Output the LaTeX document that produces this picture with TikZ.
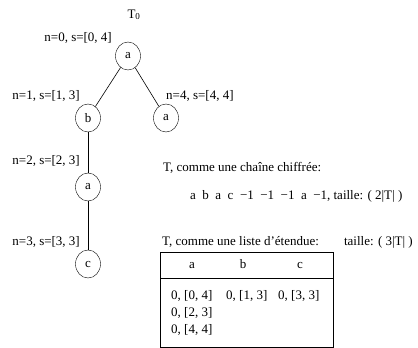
\documentclass[tikz,border=0pt]{standalone}
\usepackage{fontspec}
\setmainfont{Liberation Serif}
\usetikzlibrary{shapes.geometric}
\begin{document}
\begin{tikzpicture}[x=1pt,y=-1pt,
  tnode/.style={draw,ellipse,minimum width=25pt,minimum height=28pt,inner sep=0pt,font=\fontsize{13}{15}\selectfont},
  lbl/.style={inner sep=0pt,text height=9pt,text depth=3pt,font=\fontsize{13}{15}\selectfont},
  edge/.style={draw,line width=0.6pt}]
\useasboundingbox (0,0) rectangle (418,348);
% tree nodes
\node[tnode] (r) at (128,56) {a};
\node[tnode] (b) at (88,118) {b};
\node[tnode] (ra) at (166,118) {a};
\node[tnode] (m) at (88,187) {a};
\node[tnode] (c) at (88,264) {c};
\draw[edge] (r) -- (b);
\draw[edge] (r) -- (ra);
\draw[edge] (b) -- (m);
\draw[edge] (m) -- (c);
% labels
\node[lbl] (t0) at (134,15) {T\textsubscript{0}};
\node[lbl,anchor=east] (l0) at (112,38) {n=0, s=[0, 4]};
\node[lbl,anchor=east] (l1) at (80,96) {n=1, s=[1, 3]};
\node[lbl,anchor=west] (l4) at (166,96) {n=4, s=[4, 4]};
\node[lbl,anchor=east] (l2) at (80,161) {n=2, s=[2, 3]};
\node[lbl,anchor=east] (l3) at (80,242) {n=3, s=[3, 3]};
% right texts
\node[lbl,anchor=west] (t1) at (163,168) {T, comme une chaîne chiffrée:};
\node[lbl,anchor=west] (t2) at (190,196) {a~~b~~a~~c~~−1~~−1~~−1~~a~~−1, taille: ( 2|T| )};
\node[lbl,anchor=west] (t3) at (162,242) {T, comme une liste d’étendue:};
\node[lbl,anchor=east] (t4) at (413,242) {taille: ( 3|T| )};
% table
\draw[line width=0.6pt] (160,252) rectangle (333,347);
\draw[line width=0.6pt] (160,278) -- (333,278);
\node[lbl] (ha) at (192,265) {a};
\node[lbl] (hb) at (243,265) {b};
\node[lbl] (hc) at (300,265) {c};
\node[lbl,anchor=west] (c11) at (171,296) {0, [0, 4]};
\node[lbl,anchor=west] (c12) at (226,296) {0, [1, 3]};
\node[lbl,anchor=west] (c13) at (278,296) {0, [3, 3]};
\node[lbl,anchor=west] (c21) at (171,313) {0, [2, 3]};
\node[lbl,anchor=west] (c31) at (171,330) {0, [4, 4]};
\end{tikzpicture}
\end{document}
